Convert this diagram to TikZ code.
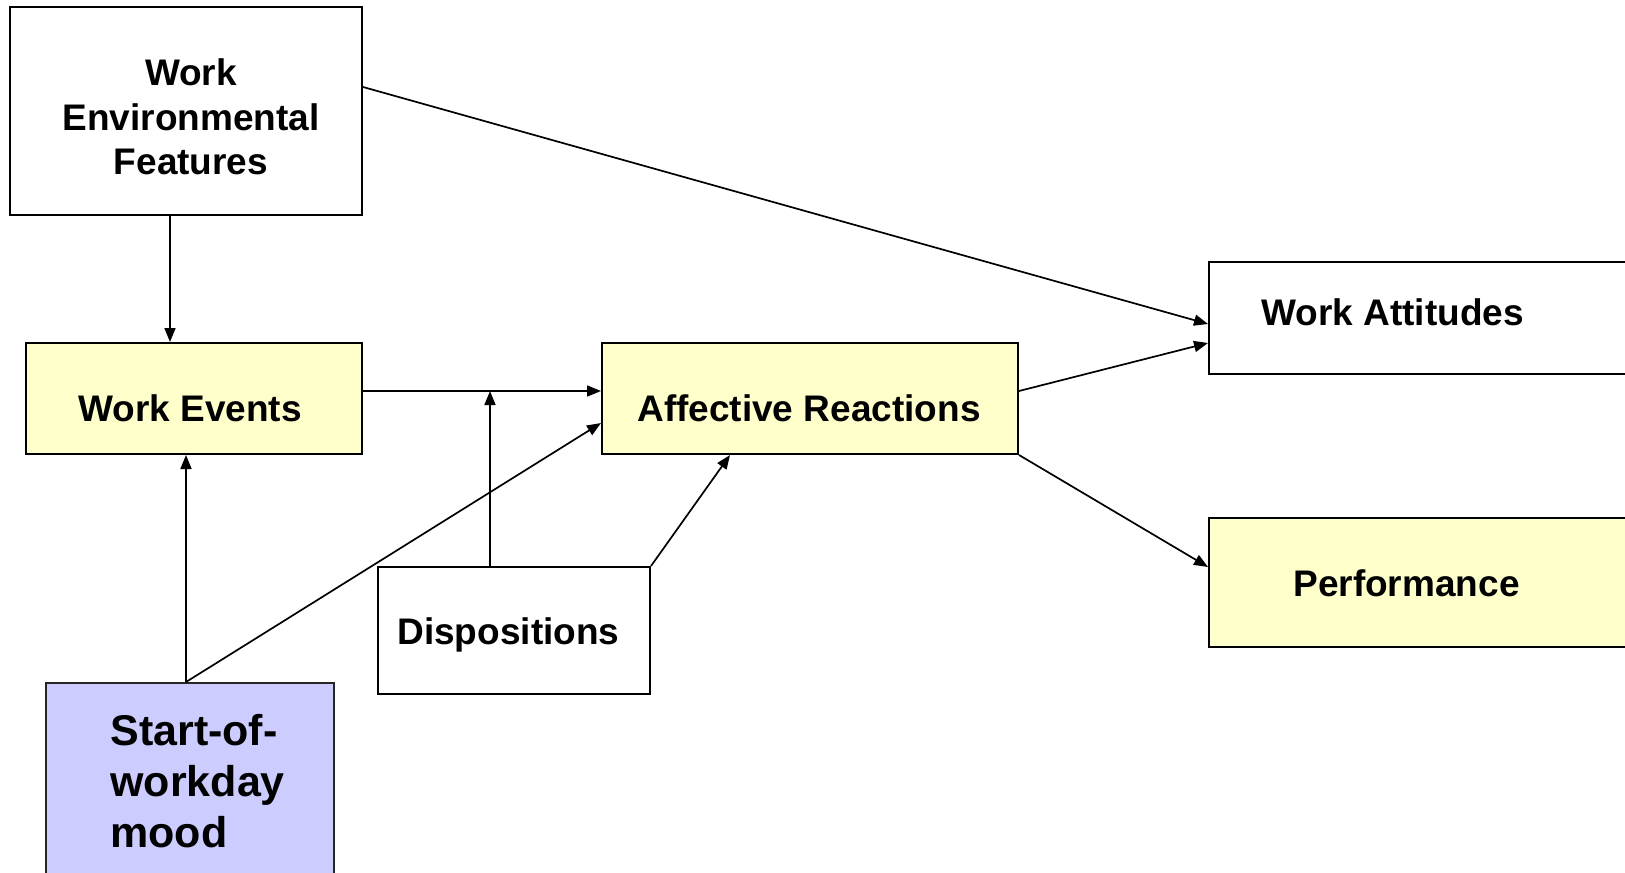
\documentclass[tikz,border=0pt]{standalone}
\usepackage{fontspec}
\setmainfont{Liberation Sans}
\usetikzlibrary{arrows.meta,calc}
\definecolor{yel}{HTML}{FFFFCC}
\definecolor{purp}{HTML}{CCCCFF}
\begin{document}
\begin{tikzpicture}[x=0.5pt,y=-0.5pt,
  box/.style={draw, line width=1pt, inner sep=0pt},
  txt/.style={inner sep=0pt, align=center,
    font=\bfseries\fontsize{18.5}{22.3}\selectfont},
  arr/.style={line width=0.85pt, -{Triangle[length=7pt,width=5.5pt]}}]
\useasboundingbox (0,0) rectangle (1625,872);

\node[box, minimum width=176pt, minimum height=104pt] (wef) at (186,111) {};
\node[txt] (weft) at ([shift={(2.5pt,-3pt)}]wef.center) {Work\\Environmental\\Features};
\node[box, fill=yel, minimum width=168pt, minimum height=55.5pt] (we) at (194,398.5) {};
\node[txt] (wet) at ([shift={(-2pt,-4.7pt)}]we.center) {Work Events};
\node[box, fill=yel, minimum width=208pt, minimum height=55.5pt] (ar) at (810,398.5) {};
\node[txt] (art) at ([shift={(-0.5pt,-4.7pt)}]ar.center) {Affective Reactions};
\node[box, minimum width=225.5pt, minimum height=56pt] (wa) at (1434.5,318) {};
\node[txt, anchor=west] (wat) at ([shift={(26.5pt,3pt)}]wa.west) {Work Attitudes};
\node[box, fill=yel, minimum width=225.5pt, minimum height=64.5pt] (perf) at (1434.5,582.5) {};
\node[txt, anchor=west] (perft) at ([shift={(42.5pt,-0.5pt)}]perf.west) {Performance};
\node[box, minimum width=136pt, minimum height=63.5pt] (disp) at (514,630.5) {};
\node[txt, anchor=west] (dispt) at ([shift={(10pt,-2pt)}]disp.west) {Dispositions};
\node[box, draw=black!85, fill=purp, minimum width=144pt, minimum height=115pt, anchor=north] (sowm) at (190,682) {};
\node[txt, font=\bfseries\fontsize{21.5}{25.5}\selectfont, align=left, anchor=north west] (sowmt) at (110,714) {Start-of-\\workday\\mood};

% connectors
\draw[arr] ([xshift=-8pt]wef.south) -- ([xshift=-8pt]wef.south |- we.north);
\draw[arr] ([yshift=12pt]wef.east) -- ([yshift=-3pt]wa.west);
\coordinate (weout) at ([yshift=3.75pt]we.east);
\coordinate (arin) at ([yshift=3.75pt]ar.west);
\draw[arr] (weout) -- (arin);
\coordinate (dtop) at ([xshift=-12pt]disp.north);
\draw[arr] (dtop) -- (dtop |- weout);
\draw[arr] (disp.north east) -- ([xshift=-40pt]ar.south);
\coordinate (stop) at ([xshift=-2pt]sowm.north);
\coordinate (webot) at ([xshift=-4pt]we.south);
\draw[arr] (stop) -- (stop |- webot);
\draw[arr] (stop) -- ([yshift=-12.25pt]ar.west);
\draw[arr] ([yshift=3.75pt]ar.east) -- ([yshift=-12.5pt]wa.west);
\draw[arr] (ar.south east) -- ([yshift=7.75pt]perf.west);
\end{tikzpicture}
\end{document}
